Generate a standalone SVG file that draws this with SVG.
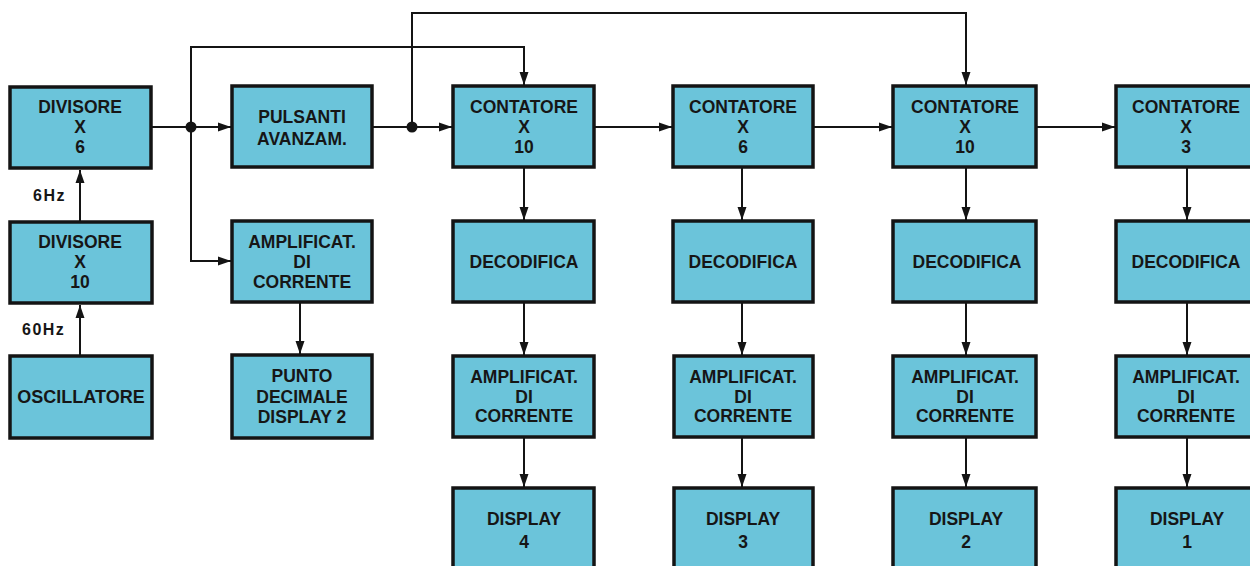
<svg xmlns="http://www.w3.org/2000/svg" width="1250" height="566" viewBox="0 0 1250 566">
<style>
.box{fill:#6bc4da;stroke:#141414;stroke-width:3.5}
.t{font-family:"Liberation Sans",Arial,sans-serif;font-weight:bold;font-size:17.5px;fill:#161616;text-anchor:middle}
.lbl{font-family:"Liberation Sans",Arial,sans-serif;font-weight:bold;font-size:16px;letter-spacing:1.5px;fill:#161616}
.w{fill:none;stroke:#141414;stroke-width:2}
</style>
<defs>
<marker id="ah" markerUnits="userSpaceOnUse" markerWidth="14" markerHeight="10" refX="13" refY="5" orient="auto">
<path d="M0,0.5 L13,5 L0,9.5 z" fill="#141414"/>
</marker>
</defs>
<rect width="1250" height="566" fill="#ffffff"/>

<g id="connectors">
<path class="w" d="M80,356 V305" marker-end="url(#ah)"/>
<path class="w" d="M80,222 V170" marker-end="url(#ah)"/>
<path class="w" d="M151,127 H231" marker-end="url(#ah)"/>
<path class="w" d="M191,127 V47 H524 V85" marker-end="url(#ah)"/>
<path class="w" d="M191,127 V261 H231" marker-end="url(#ah)"/>
<path class="w" d="M300,302 V354" marker-end="url(#ah)"/>
<path class="w" d="M372,127 H452" marker-end="url(#ah)"/>
<path class="w" d="M412,127 V13 H966 V85" marker-end="url(#ah)"/>
<path class="w" d="M594,127 H672" marker-end="url(#ah)"/>
<path class="w" d="M813,127 H892" marker-end="url(#ah)"/>
<path class="w" d="M1036,127 H1115" marker-end="url(#ah)"/>
<path class="w" d="M524,167 V220" marker-end="url(#ah)"/>
<path class="w" d="M524,302 V355" marker-end="url(#ah)"/>
<path class="w" d="M524,437 V487" marker-end="url(#ah)"/>
<path class="w" d="M742,167 V220" marker-end="url(#ah)"/>
<path class="w" d="M742,302 V355" marker-end="url(#ah)"/>
<path class="w" d="M742,437 V487" marker-end="url(#ah)"/>
<path class="w" d="M966,167 V220" marker-end="url(#ah)"/>
<path class="w" d="M966,302 V355" marker-end="url(#ah)"/>
<path class="w" d="M966,437 V487" marker-end="url(#ah)"/>
<path class="w" d="M1187,167 V220" marker-end="url(#ah)"/>
<path class="w" d="M1187,302 V355" marker-end="url(#ah)"/>
<path class="w" d="M1187,437 V487" marker-end="url(#ah)"/>
<circle cx="191" cy="127" r="5.5" fill="#141414"/>
<circle cx="412" cy="127" r="5.5" fill="#141414"/>
<text class="lbl" x="33" y="201">6Hz</text>
<text class="lbl" x="22" y="335">60Hz</text>
</g>

<g id="divisore6"><rect class="box" x="10" y="87" width="141" height="81"/>
<text class="t" x="80" y="113">DIVISORE</text><text class="t" x="80" y="133">X</text><text class="t" x="80" y="153">6</text></g>
<g id="divisore10"><rect class="box" x="10" y="222" width="142" height="81"/>
<text class="t" x="80" y="248">DIVISORE</text><text class="t" x="80" y="268">X</text><text class="t" x="80" y="288">10</text></g>
<g id="oscillatore"><rect class="box" x="10" y="356" width="142" height="82"/>
<text class="t" x="81" y="403" style="font-size:18px">OSCILLATORE</text></g>

<g id="pulsanti"><rect class="box" x="232" y="86" width="140" height="81"/>
<text class="t" x="302" y="123">PULSANTI</text><text class="t" x="302" y="145">AVANZAM.</text></g>
<g id="ampl0"><rect class="box" x="232" y="221" width="140" height="81"/>
<text class="t" x="302" y="248">AMPLIFICAT.</text><text class="t" x="302" y="268">DI</text><text class="t" x="302" y="288">CORRENTE</text></g>
<g id="punto"><rect class="box" x="232" y="355" width="140" height="83"/>
<text class="t" x="302" y="382">PUNTO</text><text class="t" x="302" y="403">DECIMALE</text><text class="t" x="302" y="423">DISPLAY 2</text></g>

<g id="cont10a"><rect class="box" x="453" y="86" width="141" height="81"/>
<text class="t" x="524" y="113">CONTATORE</text><text class="t" x="524" y="133">X</text><text class="t" x="524" y="153">10</text></g>
<g id="deco4"><rect class="box" x="453" y="221" width="141" height="81"/>
<text class="t" x="524" y="268">DECODIFICA</text></g>
<g id="ampl4"><rect class="box" x="453" y="356" width="141" height="81"/>
<text class="t" x="524" y="383">AMPLIFICAT.</text><text class="t" x="524" y="403">DI</text><text class="t" x="524" y="422">CORRENTE</text></g>
<g id="display4"><rect class="box" x="453" y="488" width="141" height="84"/>
<text class="t" x="524" y="525">DISPLAY</text><text class="t" x="524" y="548">4</text></g>

<g id="cont6"><rect class="box" x="673" y="86" width="140" height="81"/>
<text class="t" x="743" y="113">CONTATORE</text><text class="t" x="743" y="133">X</text><text class="t" x="743" y="153">6</text></g>
<g id="deco3"><rect class="box" x="673" y="221" width="140" height="81"/>
<text class="t" x="743" y="268">DECODIFICA</text></g>
<g id="ampl3"><rect class="box" x="674" y="356" width="139" height="81"/>
<text class="t" x="743" y="383">AMPLIFICAT.</text><text class="t" x="743" y="403">DI</text><text class="t" x="743" y="422">CORRENTE</text></g>
<g id="display3"><rect class="box" x="674" y="488" width="139" height="84"/>
<text class="t" x="743" y="525">DISPLAY</text><text class="t" x="743" y="548">3</text></g>

<g id="cont10b"><rect class="box" x="893" y="86" width="143" height="81"/>
<text class="t" x="965" y="113">CONTATORE</text><text class="t" x="965" y="133">X</text><text class="t" x="965" y="153">10</text></g>
<g id="deco2"><rect class="box" x="893" y="221" width="143" height="81"/>
<text class="t" x="967" y="268">DECODIFICA</text></g>
<g id="ampl2"><rect class="box" x="893" y="356" width="143" height="81"/>
<text class="t" x="965" y="383">AMPLIFICAT.</text><text class="t" x="965" y="403">DI</text><text class="t" x="965" y="422">CORRENTE</text></g>
<g id="display2"><rect class="box" x="893" y="488" width="143" height="84"/>
<text class="t" x="966" y="525">DISPLAY</text><text class="t" x="966" y="548">2</text></g>

<g id="cont3"><rect class="box" x="1116" y="86" width="142" height="81"/>
<text class="t" x="1186" y="113">CONTATORE</text><text class="t" x="1186" y="133">X</text><text class="t" x="1186" y="153">3</text></g>
<g id="deco1"><rect class="box" x="1116" y="221" width="142" height="81"/>
<text class="t" x="1186" y="268">DECODIFICA</text></g>
<g id="ampl1"><rect class="box" x="1116" y="356" width="142" height="81"/>
<text class="t" x="1186" y="383">AMPLIFICAT.</text><text class="t" x="1186" y="403">DI</text><text class="t" x="1186" y="422">CORRENTE</text></g>
<g id="display1"><rect class="box" x="1116" y="488" width="142" height="84"/>
<text class="t" x="1187" y="525">DISPLAY</text><text class="t" x="1187" y="548">1</text></g>
</svg>
